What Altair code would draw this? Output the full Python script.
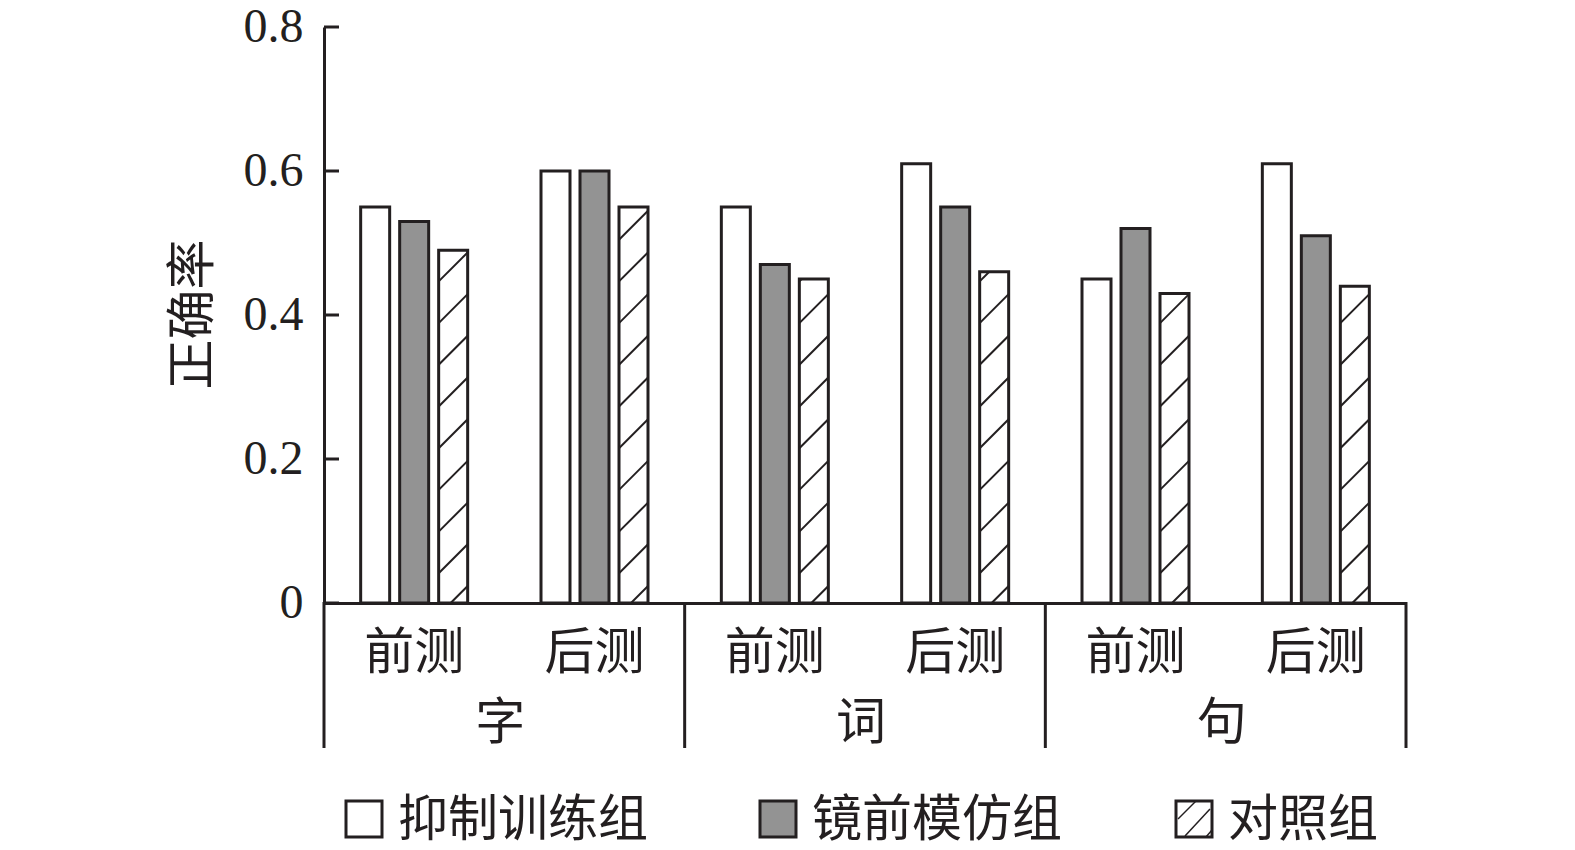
import altair as alt
import pandas as pd

# ---- data ----
groups = ["字", "词", "句"]
phases = ["前测", "后测"]
series = ["抑制训练组", "镜前模仿组", "对照组"]
inhibit = [0.55, 0.60, 0.55, 0.61, 0.45, 0.61]
mirror = [0.53, 0.60, 0.47, 0.55, 0.52, 0.51]
control = [0.49, 0.55, 0.45, 0.46, 0.43, 0.44]
y_ticks = [0, 0.2, 0.4, 0.6, 0.8]
y_title = "正确率"

# ---- style / layout ----
INK = "#231f20"
GRAY = "#939393"
FONT = "Liberation Serif, Noto Sans CJK SC"
W, H = 1082, 576
PX_X = 6 / W          # x data units per px
PX_Y = 0.8 / H        # y data units per px
BAR_STEP = 39 * PX_X
BAR_HALF = 14.5 * PX_X

values = [inhibit, mirror, control]
rows = []
for c in range(len(groups) * len(phases)):
    for s_i, s in enumerate(series):
        center = c + 0.5 + (s_i - 1) * BAR_STEP
        rows.append({"series": s, "value": values[s_i][c],
                     "x0": center - BAR_HALF, "x1": center + BAR_HALF})
bars_df = pd.DataFrame(rows)

# hatch segments for the control bars
hatch = []
spacing = 41.7 * PX_Y
rise = 29 * PX_Y
for c in range(len(control)):
    top = control[c]
    xl = c + 0.5 + BAR_STEP - BAR_HALF
    wdt = 2 * BAR_HALF
    k = 0
    while True:
        b = -12 * PX_Y + k * spacing
        if b >= top:
            break
        ya, yb = max(b, 0), min(b + rise, top)
        if yb > ya:
            xa = xl + (ya - b) / rise * wdt
            xb = xl + (yb - b) / rise * wdt
            hatch.append({"hx": xa, "hx2": xb, "hy": ya, "hy2": yb})
        k += 1
hatch_df = pd.DataFrame(hatch)

xscale = alt.Scale(domain=[0, 6], nice=False, zero=False)
yscale = alt.Scale(domain=[0, 0.8], nice=False)

base = alt.Chart(bars_df)

bars = base.mark_rect(stroke=INK, strokeWidth=3).encode(
    x=alt.X("x0:Q", scale=xscale,
            axis=alt.Axis(domain=True, domainColor=INK, domainWidth=3,
                          ticks=False, labels=False, grid=False, title=None)),
    x2="x1:Q",
    y=alt.Y("value:Q", scale=yscale,
            axis=alt.Axis(values=y_ticks, domain=True, domainColor=INK, domainWidth=3,
                          ticks=False, grid=False, labelFont=FONT, labelFontSize=48,
                          labelColor=INK, labelPadding=21,
                          labelExpr="datum.value == 0 ? '0' : format(datum.value, '.1f')",
                          title=y_title, titleFont=FONT, titleFontSize=50,
                          titleFontWeight="normal", titleColor=INK,
                          titleX=-131, titleY=H / 2 - 1, titleAngle=-90,
                          titleAlign="center", titleBaseline="middle")),
    y2=alt.datum(0),
    fill=alt.Fill("series:N", scale=alt.Scale(domain=series, range=["white", GRAY, "white"]),
                  legend=None),
)

hatch_layer = alt.Chart(hatch_df).mark_rule(color=INK, strokeWidth=2).encode(
    x=alt.X("hx:Q", scale=xscale), x2="hx2:Q",
    y=alt.Y("hy:Q", scale=yscale), y2="hy2:Q",
)

ticks_df = pd.DataFrame({"t": y_ticks})
tick_layer = alt.Chart(ticks_df).mark_rule(color=INK, strokeWidth=3).encode(
    y=alt.Y("t:Q", scale=yscale), x=alt.value(0), x2=alt.value(15)
)

sep_df = pd.DataFrame({"xb": [2 * i for i in range(len(groups) + 1)]})
sep_layer = alt.Chart(sep_df).mark_rule(color=INK, strokeWidth=3).encode(
    x=alt.X("xb:Q", scale=xscale), y=alt.value(H - 1), y2=alt.value(H + 145)
)

phase_df = pd.DataFrame({
    "pc": [c + 0.5 for c in range(len(groups) * len(phases))],
    "label": [phases[c % 2] for c in range(len(groups) * len(phases))],
})
phase_layer = alt.Chart(phase_df).mark_text(
    font=FONT, fontSize=50, color=INK, baseline="middle", align="center"
).encode(x=alt.X("pc:Q", scale=xscale), y=alt.value(627), text="label:N")

group_df = pd.DataFrame({"gc": [2 * i + 1 for i in range(len(groups))], "label": groups})
group_layer = alt.Chart(group_df).mark_text(
    font=FONT, fontSize=50, color=INK, baseline="middle", align="center", dx=-4
).encode(x=alt.X("gc:Q", scale=xscale), y=alt.value(697), text="label:N")

# ---- manual legend ----
legend_x = [22, 436, 852]
legend_fill = ["white", GRAY, "white"]
SQ = 36
LY = 774
legend_layers = []
for i, s in enumerate(series):
    d = pd.DataFrame({"s": [s]})
    lx = legend_x[i]
    legend_layers.append(alt.Chart(d).mark_rect(
        fill=legend_fill[i], stroke=INK, strokeWidth=3
    ).encode(x=alt.value(lx), x2=alt.value(lx + SQ), y=alt.value(LY), y2=alt.value(LY + SQ)))
    legend_layers.append(alt.Chart(d).mark_text(
        font=FONT, fontSize=50, color=INK, align="left", baseline="middle"
    ).encode(x=alt.value(lx + 52), y=alt.value(LY + 20), text="s:N"))
# hatch strokes in the third legend swatch
lx = legend_x[2]
for (a, b, c2, d2) in [(2, 18, 20, 0), (9, 35, 34, 8), (30, 36, 36, 29)]:
    legend_layers.append(alt.Chart(pd.DataFrame({"s": [series[2]]})).mark_rule(
        color=INK, strokeWidth=1.5
    ).encode(x=alt.value(lx + a), y=alt.value(LY + b), x2=alt.value(lx + c2), y2=alt.value(LY + d2)))

chart = alt.layer(
    bars, hatch_layer, tick_layer, sep_layer, phase_layer, group_layer, *legend_layers
).properties(
    width=W, height=H,
    background="white",
    autosize=alt.AutoSizeParams(type="none"),
    padding={"left": 316, "top": 19, "right": 60, "bottom": 250},
).configure_view(strokeWidth=0, stroke="transparent")

chart.save("out.html", embed_options={"renderer": "svg", "actions": False})
